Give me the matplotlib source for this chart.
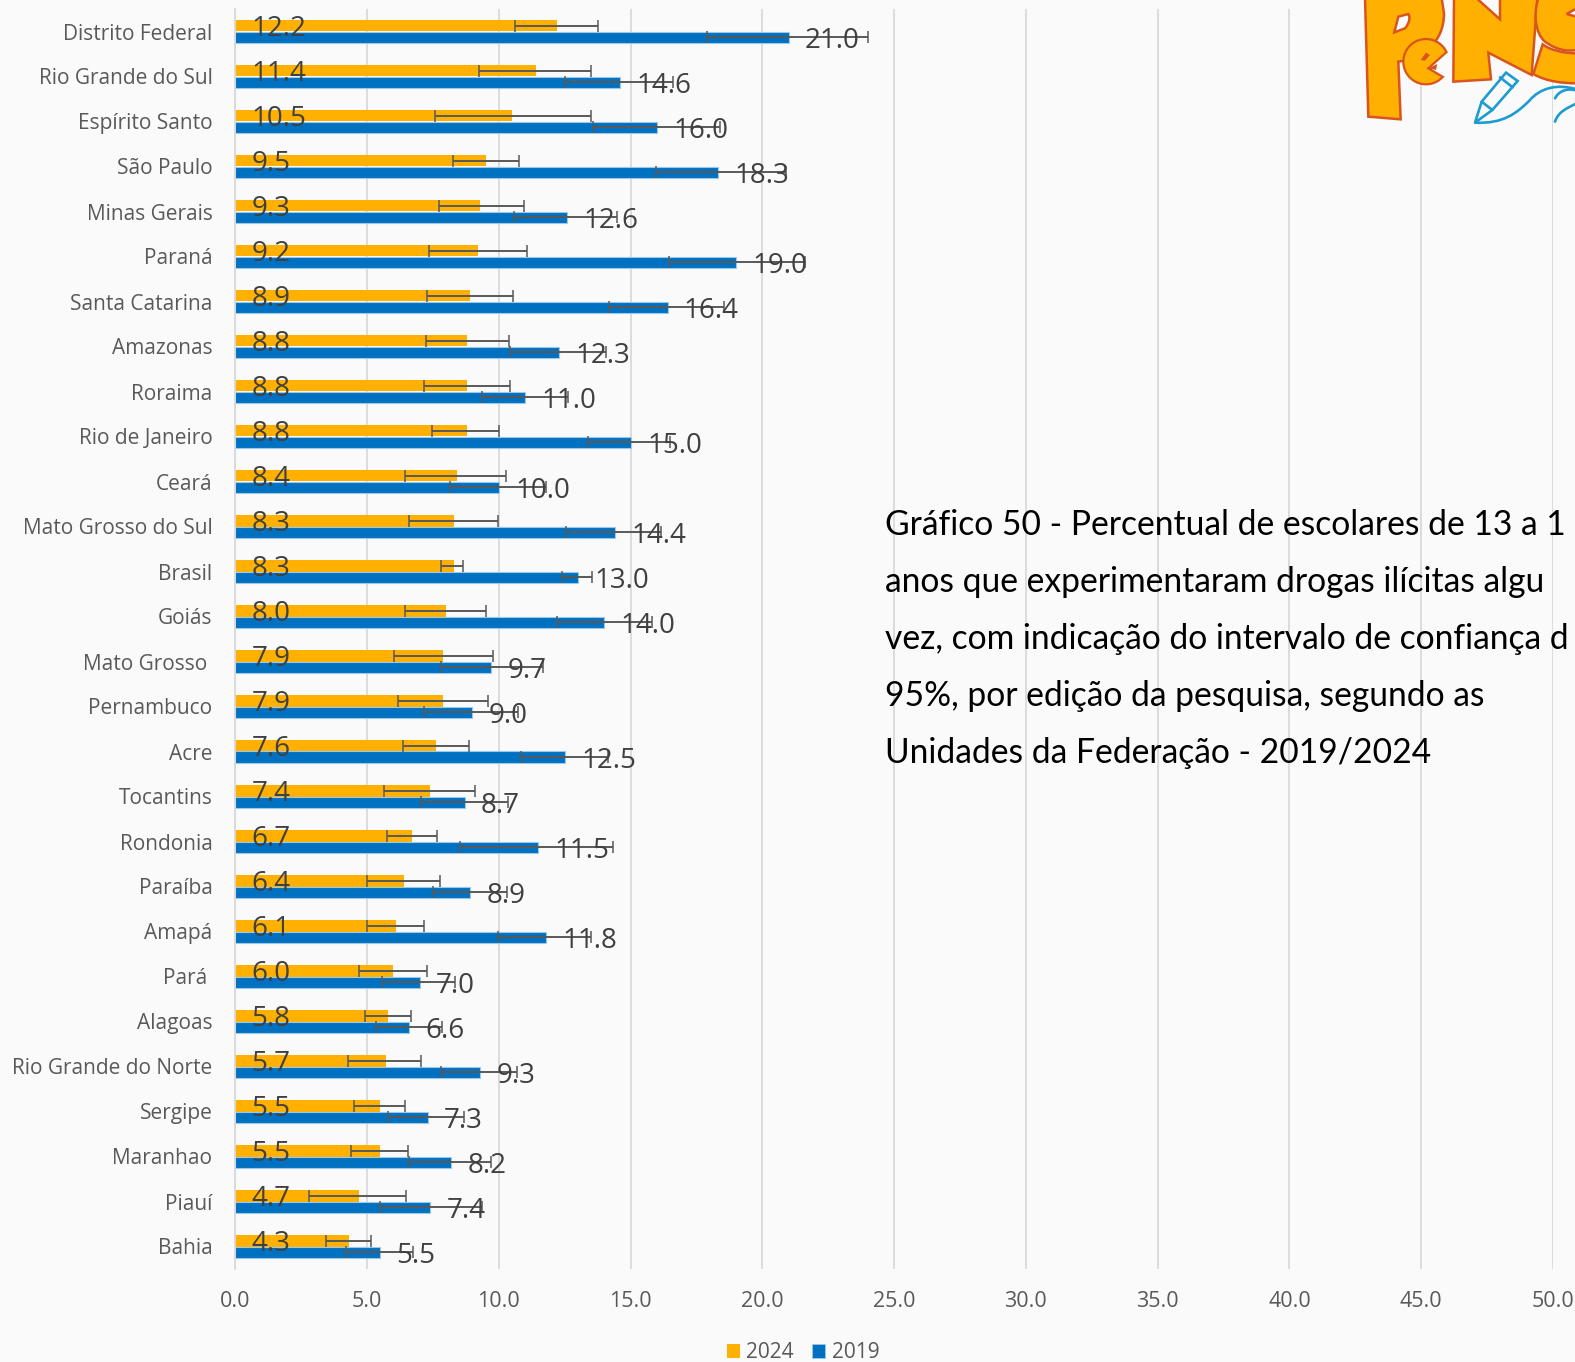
"""PeNSE chart: drug experimentation by state, 2019 vs 2024, with 95% CI."""
import numpy as np
import matplotlib
matplotlib.use("Agg")
import matplotlib.pyplot as plt
from matplotlib.patches import Patch, PathPatch, Polygon
from matplotlib.path import Path

W, H = 1575, 1362
BG = "#FAFAFA"

STATES = ["Distrito Federal", "Rio Grande do Sul", "Espírito Santo", "São Paulo", "Minas Gerais",
          "Paraná", "Santa Catarina", "Amazonas", "Roraima", "Rio de Janeiro", "Ceará",
          "Mato Grosso do Sul", "Brasil", "Goiás", "Mato Grosso ", "Pernambuco", "Acre",
          "Tocantins", "Rondonia", "Paraíba", "Amapá", "Pará ", "Alagoas",
          "Rio Grande do Norte", "Sergipe", "Maranhao", "Piauí", "Bahia"]
V2024 = [12.2, 11.4, 10.5, 9.5, 9.3, 9.2, 8.9, 8.8, 8.8, 8.8, 8.4, 8.3, 8.3, 8.0,
         7.9, 7.9, 7.6, 7.4, 6.7, 6.4, 6.1, 6.0, 5.8, 5.7, 5.5, 5.5, 4.7, 4.3]
V2019 = [21.0, 14.6, 16.0, 18.3, 12.6, 19.0, 16.4, 12.3, 11.0, 15.0, 10.0, 14.4, 13.0, 14.0,
         9.7, 9.0, 12.5, 8.7, 11.5, 8.9, 11.8, 7.0, 6.6, 9.3, 7.3, 8.2, 7.4, 5.5]
LOW2024 = [10.63, 9.26, 7.56, 8.26, 7.73, 7.34, 7.28, 7.23, 7.15, 7.45, 6.43, 6.58, 7.82, 6.45,
           6.03, 6.17, 6.36, 5.64, 5.75, 4.99, 5.01, 4.71, 4.92, 4.29, 4.51, 4.40, 2.79, 3.44]
HIGH2024 = [13.75, 13.50, 13.50, 10.78, 10.94, 11.05, 10.52, 10.37, 10.41, 10.00, 10.28, 9.98, 8.63, 9.50,
            9.78, 9.59, 8.85, 9.11, 7.65, 7.76, 7.15, 7.28, 6.67, 7.04, 6.43, 6.54, 6.49, 5.14]
LOW2019 = [17.90, 12.50, 13.57, 15.97, 10.57, 16.45, 14.18, 10.44, 9.37, 13.40, 8.13, 12.53, 12.40, 12.22,
           7.82, 7.15, 10.85, 7.04, 8.54, 7.49, 9.96, 5.58, 5.34, 7.82, 5.80, 6.60, 5.49, 4.20]
HIGH2019 = [24.00, 16.60, 18.40, 20.90, 14.50, 21.60, 18.56, 14.05, 12.64, 16.50, 11.80, 16.17, 13.55, 15.80,
            11.66, 10.72, 14.16, 10.35, 14.34, 10.30, 13.50, 8.32, 7.84, 10.68, 8.67, 9.70, 9.37, 6.75]
XTICKS = [0, 5, 10, 15, 20, 25, 30, 35, 40, 45, 50]
TITLE_LINES = ["Gráfico 50 - Percentual de escolares de 13 a 1",
               "anos que experimentaram drogas ilícitas algu",
               "vez, com indicação do intervalo de confiança d",
               "95%, por edição da pesquisa, segundo as",
               "Unidades da Federação - 2019/2024"]

plt.rcParams["font.family"] = ["Open Sans", "DejaVu Sans"]

fig = plt.figure(figsize=(W / 100, H / 100), dpi=100, facecolor=BG)
left, right, top, bottom = 235.3, 1553.0, 9.0, 1269.0
ax = fig.add_axes([left / W, 1 - bottom / H, (right - left) / W, (bottom - top) / H], facecolor="none")

y = np.arange(len(STATES))
bar_h = 0.26
ax.barh(y - bar_h / 2, V2024, height=bar_h, color="#FFB000", zorder=2, label="2024")
ax.barh(y + bar_h / 2, V2019, height=bar_h, color="#0070C0", edgecolor="#9DC9E8", linewidth=0.8,
        zorder=2, label="2019")

for off, vals, lo, hi in [(-bar_h / 2, V2024, LOW2024, HIGH2024), (bar_h / 2, V2019, LOW2019, HIGH2019)]:
    vals, lo, hi = np.array(vals), np.array(lo), np.array(hi)
    ax.errorbar(vals, y + off, xerr=[vals - lo, hi - vals], fmt="none", ecolor="#595959",
                elinewidth=1.4, capsize=4.2, capthick=1.1, zorder=3)

for i in y:
    ax.annotate(f"{V2024[i]:.1f}", (0, i - bar_h / 2), xytext=(11.5, -2.3), textcoords="offset points",
                ha="left", va="center", fontsize=20, color="#404040", zorder=4)
    ax.annotate(f"{V2019[i]:.1f}", (V2019[i], i + bar_h / 2), xytext=(11.8, -2.7), textcoords="offset points",
                ha="left", va="center", fontsize=20, color="#404040", zorder=4)

ax.set_xlim(0, 50)
ax.set_ylim(len(STATES) - 0.5, -0.5)
ax.set_xticks(XTICKS, [f"{v:.1f}" for v in XTICKS])
ax.set_yticks(y, STATES)
ax.tick_params(axis="x", length=0, pad=16, labelsize=15.5, labelcolor="#595959")
ax.tick_params(axis="y", length=0, pad=16.5, labelsize=15, labelcolor="#595959")
ax.grid(axis="x", color="#D9D9D9", linewidth=1.3, zorder=0)
ax.set_axisbelow(True)
for s in ["top", "right", "bottom"]:
    ax.spines[s].set_visible(False)
ax.spines["left"].set_color("#D9D9D9")
ax.spines["left"].set_linewidth(1.3)

handles = [Patch(facecolor="#FFB000", label="2024"),
           Patch(facecolor="#0070C0", edgecolor="#9DC9E8", linewidth=0.6, label="2019")]
fig.legend(handles=handles, loc="center", bbox_to_anchor=(803 / W, 1 - 1353 / H), ncol=2, frameon=False,
           fontsize=15, labelcolor="#595959", handlelength=0.62, handleheight=0.62, handletextpad=0.3,
           columnspacing=0.9, borderpad=0)

# pixel-space overlay for the title and the logo
ov = fig.add_axes([0, 0, 1, 1], facecolor="none")
ov.set_xlim(0, W)
ov.set_ylim(H, 0)
ov.axis("off")

for line, base in zip(TITLE_LINES, [535, 592, 649, 706, 763]):
    ov.text(885, base, line, ha="left", va="baseline", fontsize=24.2, color="#000000",
            family=["Lato", "DejaVu Sans"])


def z(p):
    # logo outlines were traced in a 3x crop starting at x=1300, y=0
    return (1300 + p[0] / 3, p[1] / 3)


def shape(start, segs, closed=True):
    # a segment with one point is a line, with three points a cubic curve
    verts, codes = [z(start)], [Path.MOVETO]
    for seg in segs:
        verts += [z(p) for p in seg]
        codes += [Path.LINETO] if len(seg) == 1 else [Path.CURVE4] * 3
    if closed:
        verts.append(z(start))
        codes.append(Path.CLOSEPOLY)
    return Path(verts, codes)


ORANGE, RUST, BLUE = "#FFB000", "#D9541E", "#1C9CD0"
logo = [
    shape((195, -5), [[(205, 350)], [(302, 358)], [(295, 185)], [(365, 175), (432, 130), (432, 40)], [(425, -5)]]),
    shape((462, -5), [[(460, 245)], [(573, 238)], [(565, 158)], [(695, 225)], [(712, -5)], [(600, -5)], [(600, 58)], [(530, -5)]]),
    shape((715, -5), [[(700, 40), (705, 100), (735, 125)], [(770, 150), (800, 155), (830, 150)], [(830, 50)], [(800, 42)], [(830, 25)], [(830, -5)]]),
    shape((830, 160), [[(790, 160), (750, 150), (728, 133)], [(700, 222)], [(740, 245), (790, 250), (830, 250)]]),
    shape((295, 50), [[(325, 42)], [(332, 50), (328, 70), (315, 85)], [(283, 97)]]),
]
fills = [ORANGE, ORANGE, ORANGE, ORANGE, BG]
for path, fc in zip(logo, fills):
    ov.add_patch(PathPatch(path, facecolor=fc, edgecolor=RUST, linewidth=1.8))
ang = np.radians(np.linspace(25, 318, 40))
mouth = [z((378 + 68 * np.cos(t), 185 - 68 * np.sin(t))) for t in ang] + [z((385, 205))]
ov.add_patch(Polygon(mouth, closed=True, facecolor=ORANGE, edgecolor=RUST, linewidth=1.6))
ov.add_patch(Polygon([z(p) for p in [(362, 180), (378, 158), (390, 165), (375, 182)]], closed=True,
                     facecolor=RUST, edgecolor="none"))
ov.add_patch(Polygon([z(p) for p in [(385, 205), (412, 192), (408, 210)]], closed=True,
                     facecolor=RUST, edgecolor="none"))

ov.add_patch(PathPatch(shape((525, 368), [[(545, 305)], [(618, 218)], [(653, 243)], [(577, 330)]]),
                       facecolor=BG, edgecolor=BLUE, linewidth=1.9))
strokes = [
    shape((600, 232), [[(638, 262)]], closed=False),
    shape((545, 305), [[(577, 330)]], closed=False),
    shape((525, 368), [[(610, 372), (650, 340), (690, 300)], [(720, 265), (770, 250), (830, 268)]], closed=False),
    shape((765, 295), [[(775, 275), (800, 262), (830, 272)]], closed=False),
    shape((765, 365), [[(775, 335), (800, 325), (830, 310)]], closed=False),
]
for path in strokes:
    ov.add_patch(PathPatch(path, facecolor="none", edgecolor=BLUE, linewidth=1.9, capstyle="round"))

fig.savefig("out.png", dpi=100, facecolor=BG)
